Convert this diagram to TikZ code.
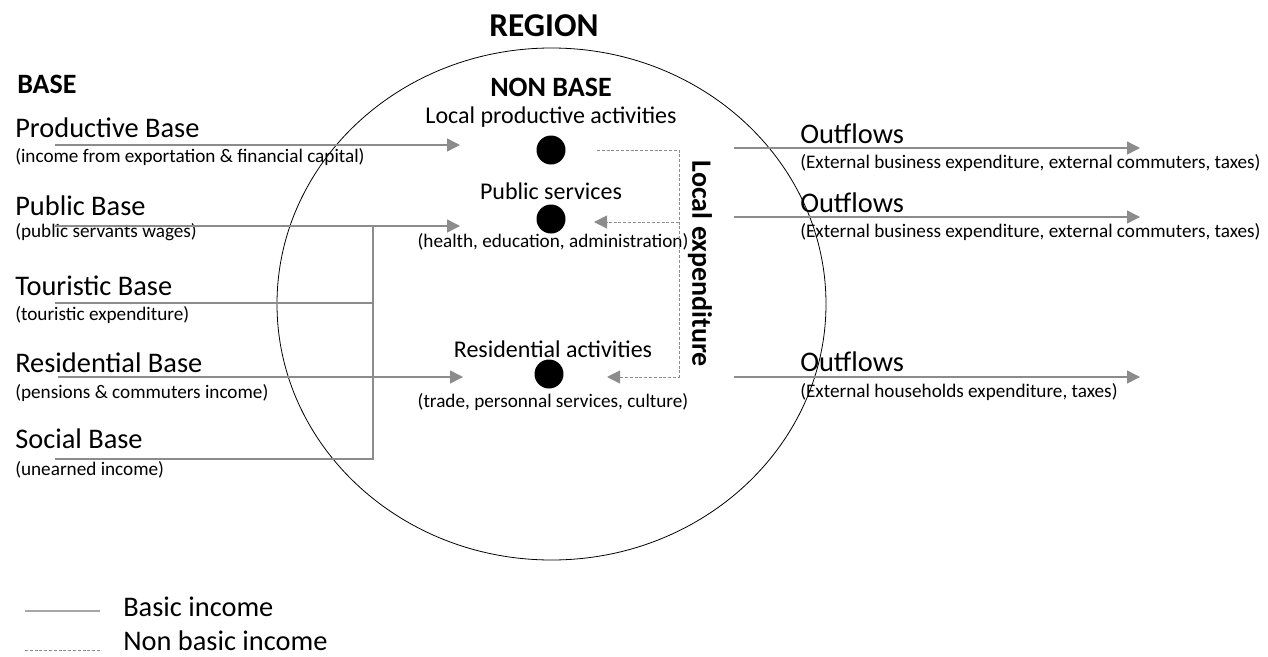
\documentclass[tikz,border=0pt]{standalone}
\usepackage{fontspec}
\setmainfont{Carlito}
\usetikzlibrary{arrows.meta}
\definecolor{flowgray}{HTML}{8C8C8C}

\begin{document}
\begin{tikzpicture}[
        x=0.75pt, y=-0.75pt,
        >={Triangle[length=9.75pt, width=9.75pt]},
        basic/.style={draw=flowgray, line width=1.1pt},
        nonbasic/.style={draw=flowgray, line width=0.7pt, dash pattern=on 2.2pt off 1.4pt},
        heading/.style={font=\bfseries\fontsize{21}{25}\selectfont, inner sep=0pt},
        basetitle/.style={font=\fontsize{21.3}{25}\selectfont, inner sep=0pt, anchor=base west},
        basenote/.style={font=\fontsize{14.4}{17}\selectfont, inner sep=0pt, anchor=base west},
        actlabel/.style={font=\fontsize{18}{21}\selectfont, inner sep=0pt, anchor=base},
        actnote/.style={font=\fontsize{14.4}{17}\selectfont, inner sep=0pt, anchor=base},
        dot/.style={circle, fill=black, inner sep=0pt, minimum size=21.75pt}
    ]
    \useasboundingbox (0,0) rectangle (1268,657);
    % the region
    \draw[line width=0.6pt] (551.5,304) ellipse [x radius=274.5, y radius=256];
    \node[heading, font=\bfseries\fontsize{25}{30}\selectfont, anchor=base] (region) at (544,36) {REGION};
    \node[heading, anchor=base west] (base) at (17,93) {BASE};
    \node[heading, anchor=base] (nonbase) at (551,96) {NON BASE};

    % base incomes
    \node[basetitle] (prod) at (15,137) {Productive Base};
    \node[basenote] (prodnote) at (15,162) {(income from exportation \& financial capital)};
    \node[basetitle] (pub) at (15,215) {Public Base};
    \node[basenote] (pubnote) at (15,237) {(public servants wages)};
    \node[basetitle] (tour) at (15,295) {Touristic Base};
    \node[basenote] (tournote) at (15,320) {(touristic expenditure)};
    \node[basetitle] (res) at (15,372) {Residential Base};
    \node[basenote] (resnote) at (15,398) {(pensions \& commuters income)};
    \node[basetitle] (soc) at (15,448) {Social Base};
    \node[basenote] (socnote) at (15,475) {(unearned income)};

    % non base activities
    \node[actlabel] (locprod) at (551,123) {Local productive activities};
    \node[dot] (locproddot) at (551,150) {};
    \node[actlabel] (pubserv) at (551,199) {Public services};
    \node[dot] (pubservdot) at (551,219) {};
    \node[actnote] (pubservnote) at (553,247) {(health, education, administration)};
    \node[actlabel] (resact) at (553,357) {Residential activities};
    \node[dot] (resactdot) at (549,374) {};
    \node[actnote] (resactnote) at (553,407) {(trade, personnal services, culture)};
    \node[heading, rotate=-90] (localexp) at (700,264) {Local expenditure};

    % outflows
    \node[basetitle] (out1) at (800,143) {Outflows};
    \node[basenote] (out1note) at (800,168) {(External business expenditure, external commuters, taxes)};
    \node[basetitle] (out2) at (800,212) {Outflows};
    \node[basenote] (out2note) at (800,237) {(External business expenditure, external commuters, taxes)};
    \node[basetitle] (out3) at (800,371) {Outflows};
    \node[basenote] (out3note) at (800,397) {(External households expenditure, taxes)};

    % connector ends
    \coordinate (prodS) at (55,145);  \coordinate (prodE) at (460,145);
    \coordinate (pubS) at (55,226);   \coordinate (pubE) at (460,226);
    \coordinate (join) at (373,226);
    \coordinate (tourS) at (55,303);  \coordinate (socS) at (55,459);
    \coordinate (resS) at (58,377);   \coordinate (resE) at (463,377);
    \coordinate (locS) at (597,150);  \coordinate (locC) at (679,150);
    \coordinate (locM) at (679,222);  \coordinate (locB) at (679,377);
    \coordinate (pubservE) at (594,222);
    \coordinate (resactE) at (607,377);
    \coordinate (o1S) at (734,148);   \coordinate (o1E) at (1140,148);
    \coordinate (o2S) at (734,217);   \coordinate (o2E) at (1140,217);
    \coordinate (o3S) at (734,377);   \coordinate (o3E) at (1140,377);

    \draw[basic, ->] (prodS) -- (prodE);
    \draw[basic, ->] (pubS) -- (pubE);
    \draw[basic] (tourS) -| (join);
    \draw[basic] (socS) -| (join);
    \draw[basic, ->] (resS) -- (resE);
    \draw[nonbasic, ->] (locS) -- (locC) -- (locB) -- (resactE);
    \draw[nonbasic, ->] (locM) -- (pubservE);
    \draw[basic, ->] (o1S) -- (o1E);
    \draw[basic, ->] (o2S) -- (o2E);
    \draw[basic, ->] (o3S) -- (o3E);

    % legend
    \coordinate (legA) at (25,611);  \coordinate (legB) at (100,611);
    \coordinate (legC) at (25,650);  \coordinate (legD) at (100,650);
    \draw[basic, draw=black!35] (legA) -- (legB);
    \draw[nonbasic] (legC) -- (legD);
    \node[basetitle] (legbasic) at (123,616) {Basic income};
    \node[basetitle] (legnonbasic) at (123,650) {Non basic income};
\end{tikzpicture}
\end{document}
